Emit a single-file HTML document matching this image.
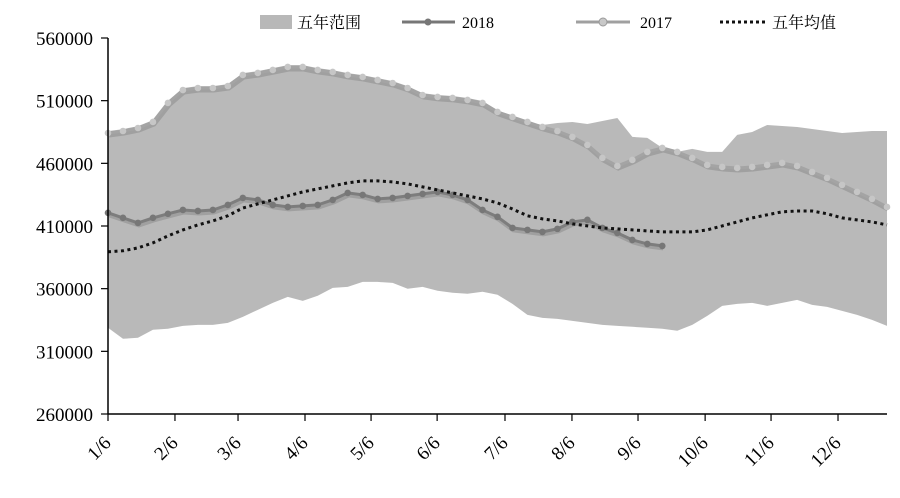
<!DOCTYPE html>
<html><head><meta charset="utf-8"><style>
html,body{margin:0;padding:0;background:#fff;}
svg text{font-family:"Liberation Serif","Noto Serif CJK SC",serif;}
</style></head><body>
<svg id="chart" width="900" height="493" viewBox="0 0 900 493" xmlns="http://www.w3.org/2000/svg">
<g id="legend">
 <g><rect x="260" y="15" width="32" height="14" fill="#b8b8b8"/><text x="297" y="28" font-size="16" font-family="Liberation Sans, Noto Sans CJK SC, sans-serif">五年范围</text></g>
 <g><line x1="402" y1="22" x2="455" y2="22" stroke="#777" stroke-width="3"/><circle cx="428" cy="22" r="3.5" fill="#777"/><text x="462" y="28" font-size="16">2018</text></g>
 <g><line x1="576" y1="22" x2="630" y2="22" stroke="#a0a0a0" stroke-width="3"/><circle cx="603" cy="22" r="4" fill="#c8c8c8" stroke="#999"/><text x="640" y="28" font-size="16">2017</text></g>
 <g><line x1="720" y1="22" x2="766" y2="22" stroke="#111" stroke-width="3" stroke-dasharray="3 3"/><text x="772" y="28" font-size="16" font-family="Liberation Sans, Noto Sans CJK SC, sans-serif">五年均值</text></g>
</g>
<g id="plot"></g>
<g id="axes"></g>
</svg>
<script>
const yTicks=[260000,310000,360000,410000,460000,510000,560000];
const xTickLabels=["1/6","2/6","3/6","4/6","5/6","6/6","7/6","8/6","9/6","10/6","11/6","12/6"];
const xTickWeeks=[0,4.47,8.68,13.15,17.56,21.97,26.5,30.97,35.38,39.86,44.26,48.73];
const rangeUpper=[485700,487300,489700,494500,509700,520000,521600,521600,523200,532000,533600,536000,538400,538400,536000,534400,532000,530400,528000,525600,521600,516000,514500,513700,512100,509700,502500,497000,493000,490600,492200,493000,491400,493800,496200,481100,480300,472300,469100,471500,469100,469100,482700,485000,490600,489800,489000,487400,485800,484200,485000,485800,485800];
const rangeLower=[328800,320000,320800,327200,328000,330300,331100,331100,332700,337500,343100,348700,353500,350300,354300,360600,361400,365400,365400,364600,359900,361400,358300,356700,355900,357500,355100,347900,339100,336700,335900,334300,332700,331100,330300,329600,328800,328000,326400,331100,338300,346300,347900,348700,346300,348700,351100,347100,345500,342300,339100,335100,330300];
const series2017=[484200,485800,488200,493000,508200,518500,520100,520100,521700,530500,532100,534500,536900,536900,534500,532900,530500,528900,526500,524100,520100,514500,513000,512200,510600,508200,501000,497000,493000,489000,485800,481100,474700,464300,457900,462700,469100,472300,469100,464300,458700,457100,456300,457100,458700,460300,457900,453100,448400,442800,437200,431600,425200];
const series2018=[420500,416500,412500,416500,419700,422800,422000,422800,426800,432400,430800,426800,425200,426000,426800,430800,436400,434800,431600,432400,434000,435600,437200,434800,430800,422800,417300,408500,406900,405300,407700,413300,414900,408500,404500,398900,395700,394100];
const seriesAvg=[389400,390200,392500,396500,402100,406900,410900,414100,418100,424400,427600,430800,434000,437200,439600,442000,444400,446000,446000,445200,443600,441200,438800,436400,434000,431600,428400,423600,418100,415700,414100,411700,410100,408500,407700,406900,406100,405300,405300,405300,406900,410100,413300,416500,418900,421300,422000,422000,419700,416500,414900,413300,410900];

const NS="http://www.w3.org/2000/svg";
const X0=108,X1=887,Y0=414,Y1=38,NW=52;
const xs=i=>X0+i*(X1-X0)/NW;
const ys=v=>Y0-(v-260000)*(Y0-Y1)/300000;
const plot=document.getElementById('plot'),axes=document.getElementById('axes');
function mk(tag,attrs,parent){const e=document.createElementNS(NS,tag);for(const k in attrs)e.setAttribute(k,attrs[k]);parent.appendChild(e);return e;}
function pts(arr){return arr.map((v,i)=>xs(i).toFixed(1)+','+ys(v).toFixed(1)).join(' ');}

// range area
let d='M'+rangeUpper.map((v,i)=>xs(i)+','+ys(v)).join(' L');
for(let i=rangeLower.length-1;i>=0;i--)d+=' L'+xs(i)+','+ys(rangeLower[i]);
const area=mk('path',{d:d+'Z',fill:'#b9b9b9'},plot);



function drawSeries(arr,name,col,mcol,sw){
 const g=mk('g',{},plot);
 
 
 mk('polyline',{points:pts(arr),fill:'none',stroke:'#888',opacity:0.5,'stroke-width':sw+2,transform:'translate(1,2)'},g);
 mk('polyline',{points:pts(arr),fill:'none',stroke:col,'stroke-width':sw},g);
 arr.forEach((v,i)=>{const c=mk('circle',{cx:xs(i),cy:ys(v),r:3.3,fill:mcol},g);
  
  });
}
drawSeries(series2018,'series-2018','#7d7d7d','#777',3);
drawSeries(series2017,'series-2017','#a4a4a4','#c6c6c6',3);
const avg=mk('polyline',{points:pts(seriesAvg),fill:'none',stroke:'#111','stroke-width':3,'stroke-dasharray':'3 3.5'},plot);



// axes
const ya=mk('line',{x1:X0,y1:Y1,x2:X0,y2:Y0,stroke:'#000','stroke-width':1.5},axes);


const xa=mk('line',{x1:X0,y1:Y0,x2:X1,y2:Y0,stroke:'#000','stroke-width':1.5},axes);


yTicks.forEach(v=>{
 const y=ys(v);
 mk('line',{x1:X0-7,y1:y,x2:X0,y2:y,stroke:'#000','stroke-width':1.2},axes);
 const t=mk('text',{x:93,y:y+7,'text-anchor':'end','font-size':19},axes);
 t.textContent=v;
 
 
});
xTickWeeks.forEach((w,k)=>{
 const x=xs(w);
 mk('line',{x1:x,y1:Y0,x2:x,y2:Y0+7,stroke:'#000','stroke-width':1.2},axes);
 const t=mk('text',{x:x+4,y:Y0+30,'text-anchor':'end','font-size':19,transform:`rotate(-45 ${x+4} ${Y0+30})`},axes);
 t.textContent=xTickLabels[k];
 
 
});
</script>
</body></html>
